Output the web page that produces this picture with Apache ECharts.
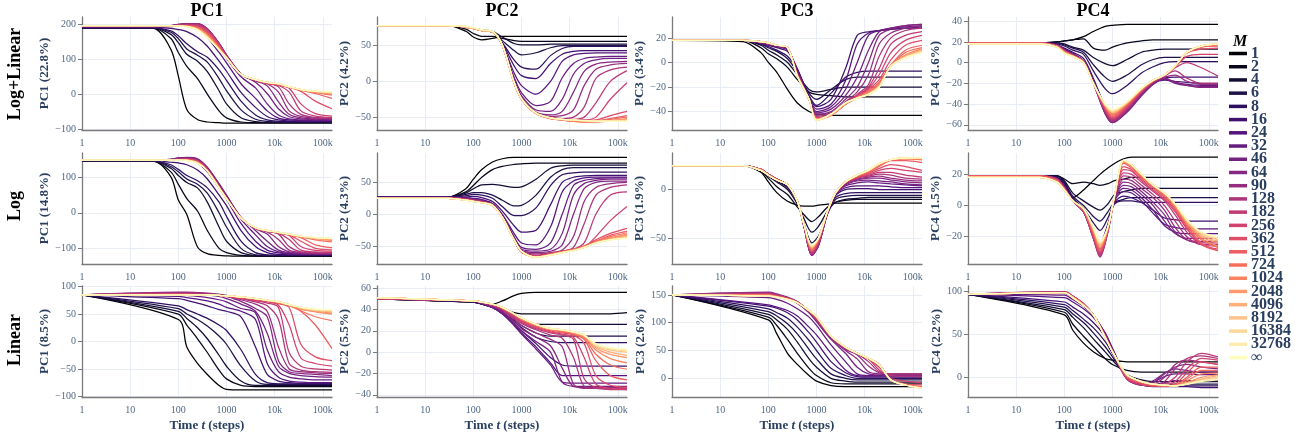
<!DOCTYPE html>
<html><head><meta charset="utf-8">
<script src="https://cdn.jsdelivr.net/npm/echarts@6/dist/echarts.min.js"></script>
<style>html,body{margin:0;padding:0;background:#fff}#c{width:1307px;height:443px}</style>
</head><body><div id="c"></div>
<script>
const M_LABELS = ['1','2','4','6','8','16','24','32','46','64','90','128','182','256','362','512','724','1024','2048','4096','8192','16384','32768','∞'];
const COL_TITLES = ['PC1','PC2','PC3','PC4'];
const ROW_TITLES = ['Log+Linear','Log','Linear'];
const Y_NAMES = [
  ['PC1 (22.8%)','PC2 (4.2%)','PC3 (3.4%)','PC4 (1.6%)'],
  ['PC1 (14.8%)','PC2 (4.3%)','PC3 (1.9%)','PC4 (1.5%)'],
  ['PC1 (8.5%)','PC2 (5.5%)','PC3 (2.6%)','PC4 (2.2%)']];
const X_NAME = 'Time {it|t} (steps)';

// time samples (steps)
const T_MAIN = [1,30,70,100,150,250,400,700,1000,2000,4000,7000,12000,20000,35000,70000,155000];
const T_DIP  = [1,30,70,100,150,250,400,550,800,1100,1700,2500,4000,7000,12000,20000,35000,70000,155000];
const T_LIN  = [1,100,150,250,400,700,1000,2000,4000,7000,12000,20000,35000,70000,155000];

// ---- Log+Linear ----
const LL_PC1 = [
[190,189,129,52,-44,-73,-80,-82,-83,-83,-83,-83,-83,-83,-83,-83,-83],
[190,190,160,120,80,45,0,-48,-68,-80,-82,-82,-82,-82,-82,-82,-82],
[190,190,172,148,115,95,65,10,-28,-68,-79,-81,-81,-81,-81,-81,-81],
[191,191,178,160,130,112,92,45,10,-45,-72,-78,-80,-80,-80,-80,-80],
[191,191,182,168,145,122,106,70,40,-20,-60,-74,-78,-79,-79,-79,-79],
[192,192,189,186,180,163,138,95,66,5,-38,-64,-74,-77,-78,-78,-78],
[193,193,194,196,196,188,163,120,90,30,-12,-48,-69,-74,-76,-76,-76],
[194,194,196,199,201,198,178,138,104,50,18,-28,-60,-71,-74,-75,-75],
[194,194,197,201,203,202,186,146,112,58,34,2,-42,-65,-71,-73,-73],
[195,195,197,201,203,203,188,147,113,59,38,24,-22,-58,-68,-71,-72],
[195,195,197,200,202,202,188,146,112,58,39,30,6,-48,-64,-69,-70],
[195,195,197,199,201,200,187,145,110,58,40,31,21,-28,-58,-67,-69],
[196,196,197,198,199,198,185,143,108,57,40,31,25,6,-48,-63,-67],
[196,196,197,198,198,196,183,141,107,57,40,31,26,17,-28,-56,-63],
[196,196,197,197,197,194,180,139,106,57,41,32,27,20,8,-20,-42],
[196,196,197,197,197,192,176,136,106,57,41,32,28,20,12,2,-12],
[197,197,197,197,196,190,172,134,105,57,41,33,29,21,13,5,-3],
[197,197,197,197,196,189,170,132,105,57,42,33,29,21,12,5,0],
[197,197,197,197,195,188,168,131,105,57,42,34,30,21,13,6,2],
[197,197,197,196,195,187,166,130,105,57,42,34,30,21,13,7,3],
[197,197,197,196,195,186,165,129,105,57,42,34,30,21,13,8,4],
[197,197,197,196,194,186,164,129,105,57,42,34,30,21,13,8,5],
[197,197,197,196,194,185,163,128,105,57,42,34,30,21,13,9,6],
[197,197,197,196,194,185,162,128,105,57,42,34,30,22,14,9,7]];
const LL_PC2 = [
[78,78,70,62,58,60,63,63,63,63,63,63,63,63,63,63,63],
[78,78,73,67,63,63,60,57,56,56,56,56,56,56,56,56,56],
[78,78,76,74,72,70,62,53,51,51,52,52,52,52,52,52,52],
[78,78,76,74,72,69,57,43,37,40,47,50,50,50,50,50,50],
[78,78,76,74,72,69,54,30,20,17,36,46,49,49,49,49,49],
[78,78,76,74,72,69,53,22,8,4,25,38,42,43,43,43,43],
[78,78,76,74,71,69,52,12,-6,-18,0,28,37,39,40,40,40],
[78,78,76,74,71,69,51,6,-16,-34,-28,5,25,32,34,35,35],
[78,78,76,74,71,69,51,3,-20,-40,-42,-25,10,25,30,32,32],
[78,78,76,74,71,69,51,1,-22,-43,-47,-42,-15,14,24,27,28],
[78,78,76,74,71,69,50,0,-23,-44,-49,-48,-40,-6,17,23,25],
[78,78,76,74,71,69,50,-1,-24,-45,-50,-52,-50,-36,4,16,20],
[78,78,76,74,71,69,50,-1,-24,-45,-51,-53,-53,-50,-30,0,15],
[78,78,76,74,71,69,50,-1,-24,-45,-51,-53,-54,-54,-50,-25,-2],
[78,78,76,74,71,69,50,-2,-25,-45,-51,-53,-55,-55,-54,-48,-42],
[78,78,76,74,71,69,50,-2,-25,-45,-52,-54,-56,-56,-55,-52,-48],
[78,78,76,74,71,69,50,-2,-25,-45,-52,-54,-56,-57,-56,-53,-50],
[78,78,76,74,71,69,50,-2,-25,-45,-52,-54,-56,-57,-57,-55,-52],
[78,78,76,74,71,69,50,-2,-25,-45,-51,-53,-55,-56,-56,-55,-53],
[78,78,76,74,71,69,50,-2,-25,-45,-51,-53,-54,-55,-55,-55,-54],
[78,78,76,74,71,69,50,-2,-25,-45,-51,-53,-54,-55,-55,-55,-55],
[78,78,77,75,72,70,51,-1,-24,-45,-51,-53,-54,-55,-55,-55,-55],
[78,78,77,75,72,70,51,-1,-24,-44,-51,-53,-54,-55,-56,-56,-56],
[78,78,77,75,72,70,51,-1,-24,-44,-51,-53,-54,-55,-56,-56,-56]];
const LL_PC3 = [
[18,17,8,0,-8,-22,-33,-40,-42,-43,-43,-43,-43,-43,-43,-43,-43],
[18,18,12,7,3,-4,-14,-24,-26,-27,-28,-28,-28,-28,-28,-28,-28],
[18,18,14,10,6,0,-10,-22,-24,-22,-20,-20,-20,-20,-20,-20,-20],
[18,18,15,12,9,3,-8,-25,-30,-22,-14,-12,-12,-12,-12,-12,-12],
[18,18,15,13,10,5,-6,-27,-35,-25,-12,-8,-7,-7,-7,-7,-7],
[18,18,16,14,12,9,-5,-28,-36,-30,-5,22,25,26,27,28,28],
[18,18,16,14,13,10,-6,-29,-38,-34,-15,15,24,26,27,28,29],
[18,18,16,15,13,11,-7,-29,-40,-36,-22,0,22,26,28,29,30],
[18,18,16,15,13,11,-8,-30,-41,-38,-27,-12,10,25,28,30,31],
[18,18,16,15,13,11,-8,-30,-42,-40,-30,-20,0,22,27,30,31],
[18,18,17,15,14,11,-9,-30,-43,-41,-32,-24,-10,15,24,28,30],
[18,18,17,15,14,12,-9,-30,-44,-42,-33,-26,-18,5,20,26,28],
[18,18,17,16,14,12,-10,-30,-45,-43,-33,-27,-20,-5,15,22,25],
[18,18,17,16,14,12,-10,-30,-45,-43,-34,-27,-21,-10,8,18,22],
[18,18,17,16,14,12,-10,-30,-46,-43,-34,-28,-22,-14,2,14,18],
[18,18,17,16,14,12,-10,-30,-46,-43,-34,-28,-23,-16,-2,10,14],
[18,18,17,16,14,12,-11,-30,-46,-43,-34,-29,-24,-17,-3,8,12],
[18,18,17,16,14,12,-11,-30,-46,-43,-34,-29,-25,-18,-3,6,11],
[18,18,17,16,14,12,-11,-30,-46,-43,-34,-29,-25,-19,-3,5,10],
[18,18,17,16,14,12,-11,-30,-47,-43,-33,-29,-26,-19,-3,5,10],
[18,18,17,16,14,12,-11,-30,-47,-42,-33,-29,-26,-20,-3,4,9],
[18,18,17,16,14,12,-11,-30,-47,-42,-33,-29,-26,-20,-3,4,9],
[18,18,17,16,14,12,-11,-30,-47,-42,-33,-29,-26,-20,-3,4,8],
[18,18,17,16,14,12,-11,-30,-47,-42,-33,-29,-26,-20,-3,4,8]];
const LL_PC4 = [
[19,19,20,21,22,25,30,35,36,37,37,37,37,37,37,37,37],
[19,19,20,21,22,23,14,12,15,19,21,22,22,22,22,22,22],
[19,19,19,18,15,12,5,-1,-3,3,10,12,13,13,13,13,13],
[19,19,19,17,14,10,-2,-14,-18,-12,-2,3,5,5,5,5,5],
[19,19,18,16,12,8,-8,-25,-30,-22,-10,-4,0,1,1,1,1],
[19,19,17,14,10,4,-15,-42,-50,-42,-28,-20,-15,-14,-14,-14,-14],
[19,19,17,13,9,2,-18,-46,-55,-45,-30,-20,-17,-18,-19,-20,-20],
[19,19,17,13,8,1,-19,-48,-57,-47,-31,-20,-16,-19,-21,-22,-22],
[19,19,17,12,8,1,-19,-49,-58,-48,-32,-21,-16,-20,-22,-23,-23],
[19,19,17,12,8,1,-20,-49,-58,-47,-31,-20,-15,-19,-22,-24,-24],
[19,19,17,12,7,1,-20,-48,-57,-46,-30,-19,-14,-12,-18,-21,-21],
[19,19,16,12,7,1,-20,-47,-56,-45,-29,-19,-13,-8,-15,-20,-20],
[19,19,16,11,7,1,-20,-46,-55,-44,-28,-18,-13,-5,0,-5,-13],
[19,19,16,11,7,1,-20,-45,-54,-43,-28,-18,-12,-4,6,8,8],
[19,19,16,11,7,1,-20,-44,-53,-42,-27,-18,-12,-4,9,13,14],
[19,19,16,11,7,1,-20,-43,-52,-41,-27,-18,-12,-4,10,15,16],
[18,18,16,10,6,0,-20,-42,-51,-40,-26,-17,-12,-3,10,15,17],
[18,18,16,10,6,0,-20,-42,-50,-40,-26,-17,-12,-3,10,16,17],
[18,18,15,10,6,0,-20,-41,-49,-39,-26,-17,-12,-3,10,16,18],
[18,18,15,10,6,0,-20,-41,-48,-39,-25,-17,-12,-3,10,16,18],
[18,18,15,9,6,0,-20,-41,-47,-38,-25,-17,-12,-3,10,16,18],
[18,18,15,9,6,0,-20,-40,-47,-38,-25,-17,-12,-3,10,16,18],
[18,18,15,9,6,0,-20,-40,-46,-38,-25,-17,-12,-3,10,16,18],
[18,18,15,9,6,0,-20,-40,-45,-38,-25,-17,-12,-3,10,16,18]];

// ---- Log ----
const LOG_PC1 = [
[145,145,101,36,-5,-96,-115,-120,-121,-122,-122,-122,-122,-122,-122,-122,-122],
[145,145,115,80,40,5,-50,-100,-112,-120,-122,-122,-122,-122,-122,-122,-122],
[145,145,125,105,85,70,30,-40,-80,-112,-120,-121,-121,-121,-121,-121,-121],
[146,146,130,115,95,80,55,0,-40,-100,-118,-120,-120,-120,-120,-120,-120],
[146,146,135,122,105,90,70,30,-10,-80,-112,-118,-119,-119,-119,-119,-119],
[147,147,142,140,135,120,95,50,20,-50,-95,-112,-117,-118,-118,-118,-118],
[148,148,148,150,150,140,115,70,38,-30,-80,-105,-113,-116,-117,-117,-117],
[148,148,150,153,154,150,125,80,48,-18,-62,-95,-110,-114,-116,-116,-116],
[148,148,150,154,156,152,128,82,50,-12,-50,-80,-105,-112,-115,-116,-116],
[148,148,150,154,155,150,126,78,45,-14,-45,-60,-95,-110,-114,-115,-115],
[148,148,149,152,153,148,124,76,43,-15,-44,-54,-75,-105,-112,-114,-114],
[148,148,149,151,152,147,123,75,42,-15,-43,-52,-60,-95,-110,-112,-113],
[148,148,149,150,151,146,122,74,42,-15,-43,-52,-58,-75,-105,-110,-111],
[148,148,148,149,150,145,121,73,41,-15,-43,-52,-57,-64,-95,-106,-108],
[148,148,148,149,149,144,120,72,41,-15,-43,-51,-56,-62,-80,-100,-104],
[148,148,148,149,149,143,120,72,41,-15,-43,-51,-56,-62,-70,-90,-98],
[148,148,148,148,148,142,119,71,40,-15,-43,-51,-56,-62,-68,-76,-82],
[148,148,148,148,148,141,119,71,40,-15,-42,-50,-56,-61,-67,-73,-78],
[148,148,148,148,148,141,118,71,40,-15,-42,-50,-55,-61,-67,-72,-76],
[148,148,148,148,148,141,118,71,40,-15,-42,-50,-55,-60,-67,-71,-74],
[148,148,148,148,148,140,118,70,40,-15,-42,-50,-55,-60,-66,-71,-73],
[148,148,148,148,147,140,118,70,40,-15,-42,-50,-55,-60,-66,-70,-72],
[148,148,148,148,147,140,118,70,40,-15,-42,-50,-55,-60,-66,-70,-72],
[148,148,148,148,147,140,118,70,40,-15,-42,-50,-55,-60,-66,-70,-72]];
const LOG_PC2 = [
[27,27,40,55,70,82,87,89,89,89,89,89,89,89,89,89,89],
[27,27,35,45,58,70,75,78,79,80,80,80,80,80,80,80,80],
[27,27,33,40,46,47,45,42,43,55,72,76,77,77,77,77,77],
[27,27,31,34,34,30,22,13,14,30,58,70,73,73,73,73,73],
[27,27,29,31,30,25,12,-2,-2,10,45,62,65,66,66,66,66],
[27,27,27,28,26,20,5,-18,-28,-25,15,50,58,60,61,61,61],
[27,27,26,25,23,17,0,-30,-45,-48,-20,35,52,57,58,58,58],
[26,26,25,24,22,16,-2,-35,-52,-55,-45,0,45,53,56,57,57],
[26,26,25,23,21,16,-3,-37,-55,-58,-55,-30,30,48,53,55,55],
[26,26,24,23,21,15,-3,-38,-57,-60,-58,-48,0,40,50,52,52],
[26,26,24,22,20,15,-4,-39,-58,-62,-60,-56,-35,20,42,48,50],
[26,26,24,22,20,15,-4,-39,-59,-64,-61,-58,-52,-15,30,42,46],
[26,26,23,21,19,15,-4,-40,-59,-65,-62,-58,-55,-45,0,30,35],
[25,25,23,21,19,14,-4,-40,-59,-66,-62,-58,-55,-52,-35,-10,12],
[25,25,23,21,19,14,-5,-40,-59,-66,-62,-58,-55,-50,-40,-30,-22],
[25,25,23,21,19,14,-5,-40,-59,-67,-63,-59,-55,-50,-42,-33,-27],
[25,25,22,20,18,14,-5,-40,-58,-67,-63,-59,-56,-51,-43,-35,-29],
[25,25,22,20,18,14,-5,-40,-58,-67,-63,-59,-56,-51,-44,-37,-31],
[25,25,22,20,18,14,-5,-40,-58,-67,-64,-60,-56,-51,-44,-38,-33],
[25,25,22,20,18,14,-5,-40,-58,-67,-64,-60,-57,-52,-45,-39,-35],
[25,25,22,20,18,14,-5,-40,-58,-67,-64,-60,-57,-52,-45,-40,-36],
[25,25,22,20,18,14,-5,-40,-58,-68,-64,-60,-57,-52,-45,-40,-37],
[25,25,22,20,18,14,-5,-40,-58,-68,-64,-60,-57,-52,-45,-40,-38],
[25,25,22,20,18,14,-5,-40,-58,-67,-64,-60,-57,-52,-45,-40,-38]];
const LOG_PC3 = [
[25,25,18,8,-3,-12,-16,-17,-17,-16,-15,-14,-14,-14,-14,-14,-14,-14,-14],
[25,25,19,12,3,-5,-18,-26,-33,-28,-18,-13,-11,-10,-10,-10,-10,-10,-10],
[25,25,20,14,8,0,-15,-30,-44,-38,-22,-13,-10,-9,-8,-8,-8,-8,-8],
[25,25,20,15,9,2,-13,-35,-55,-48,-25,-10,-7,-6,-6,-6,-6,-6,-6],
[25,25,21,15,10,3,-12,-37,-60,-52,-24,-8,-4,-3,-3,-3,-3,-3,-3],
[25,25,21,16,11,4,-12,-38,-65,-56,-24,-6,0,1,1,0,0,0,0],
[25,25,21,16,11,5,-12,-38,-67,-57,-24,-5,2,4,4,4,3,2,2],
[25,25,21,16,11,5,-12,-38,-68,-58,-24,-4,4,7,8,7,6,5,4],
[25,25,21,16,11,5,-12,-38,-68,-58,-24,-4,5,9,10,9,8,6,5],
[25,25,21,16,11,5,-12,-38,-68,-57,-24,-4,6,10,12,12,10,8,7],
[25,25,21,16,11,5,-12,-38,-68,-57,-24,-4,6,11,13,14,12,10,9],
[25,25,21,16,11,5,-12,-38,-67,-56,-23,-4,7,12,14,16,15,12,11],
[25,25,21,16,11,5,-12,-37,-66,-55,-23,-4,7,12,15,18,18,15,13],
[25,25,21,16,11,5,-12,-37,-65,-54,-23,-3,8,13,16,20,22,20,18],
[25,25,21,16,11,5,-12,-37,-64,-53,-23,-3,8,13,17,22,26,24,20],
[25,25,21,15,10,5,-12,-37,-63,-52,-22,-3,8,14,18,24,30,30,28],
[25,25,20,15,10,5,-12,-37,-62,-52,-22,-3,8,14,19,25,31,32,31],
[25,25,20,15,10,5,-12,-36,-61,-51,-22,-3,8,15,20,26,31,32,32],
[25,25,20,15,10,5,-12,-36,-60,-51,-22,-3,8,15,20,26,31,33,33],
[25,25,20,15,10,5,-12,-36,-60,-50,-22,-3,8,15,20,27,31,33,33],
[25,25,20,15,10,5,-12,-36,-59,-50,-22,-3,8,15,20,27,31,33,33],
[25,25,20,15,10,5,-12,-36,-59,-50,-22,-3,8,15,20,27,31,33,33],
[25,25,20,15,10,5,-12,-36,-58,-50,-22,-3,8,15,20,27,31,33,33],
[25,25,20,15,10,5,-12,-36,-58,-50,-22,-3,8,15,20,27,31,33,33]];
const LOG_PC4 = [
[19,19,19,15,5,10,16,20,24,27,30,31,31,31,31,31,31,31,31],
[19,19,19,17,14,15,14,13,14,16,17,18,18,18,18,18,18,18,18],
[19,19,19,16,8,3,-1,-3,1,7,9,10,11,11,11,11,11,11,11],
[19,19,18,15,6,0,-7,-10,-4,2,4,5,5,5,5,5,5,5,5],
[19,19,18,14,5,-2,-11,-16,-8,1,3,3,2,2,2,2,2,2,2],
[19,19,18,13,4,-3,-16,-24,-12,2,6,5,2,-3,-8,-9,-10,-10,-10],
[19,19,17,12,3,-4,-18,-28,-14,3,9,8,3,-5,-12,-14,-15,-15,-15],
[19,19,17,12,3,-4,-19,-30,-15,4,11,10,5,-3,-13,-17,-18,-18,-18],
[19,19,17,12,3,-4,-20,-31,-16,4,13,12,7,0,-10,-18,-21,-21,-21],
[19,19,17,12,3,-4,-20,-32,-16,4,15,14,9,2,-6,-17,-22,-23,-23],
[19,19,17,11,3,-4,-21,-33,-17,4,17,16,11,5,-3,-14,-22,-24,-24],
[19,19,17,11,3,-4,-21,-33,-17,5,19,18,13,7,0,-10,-20,-25,-25],
[19,19,17,11,3,-4,-21,-32,-17,5,21,20,15,9,3,-6,-17,-25,-26],
[19,19,16,11,3,-3,-20,-31,-16,5,23,22,16,10,4,-4,-15,-25,-28],
[19,19,16,11,3,-3,-19,-30,-16,5,25,23,17,11,5,-3,-14,-25,-29],
[19,19,16,11,3,-3,-18,-29,-15,6,27,24,18,12,6,-2,-13,-24,-29],
[18,18,16,10,3,-3,-17,-28,-15,6,28,25,19,12,7,-1,-12,-22,-27],
[18,18,15,10,3,-2,-16,-27,-15,6,28,25,19,13,7,0,-11,-21,-26],
[18,18,15,10,3,-2,-16,-26,-14,6,28,26,20,13,8,0,-11,-20,-24],
[18,18,15,10,3,-2,-15,-25,-14,6,29,26,20,13,8,1,-10,-19,-23],
[18,18,15,10,3,-2,-15,-25,-14,6,29,26,20,13,8,1,-10,-18,-22],
[18,18,15,10,3,-2,-14,-24,-14,6,29,26,20,13,8,1,-9,-18,-21],
[18,18,15,10,3,-2,-14,-24,-14,6,29,26,20,13,8,1,-9,-17,-21],
[18,18,15,10,3,-2,-14,-23,-14,6,29,26,20,13,8,1,-9,-17,-20]];

// ---- Linear ----
const LIN_PC1 = [
[85,40,-10,-40,-60,-80,-87,-88,-88,-88,-88,-88,-88,-88,-88],
[85,50,30,5,-20,-52,-68,-80,-82,-82,-82,-82,-82,-82,-82],
[85,55,42,25,5,-25,-45,-72,-80,-80,-80,-80,-80,-80,-80],
[85,60,50,40,28,10,-5,-45,-72,-78,-78,-78,-78,-78,-78],
[85,65,58,50,42,30,20,-15,-60,-75,-77,-77,-77,-77,-77],
[85,78,75,70,65,58,55,45,-10,-60,-72,-75,-76,-76,-76],
[85,82,80,77,74,68,62,55,40,-40,-65,-72,-74,-75,-75],
[85,85,84,82,80,76,72,60,52,-15,-55,-65,-68,-70,-70],
[85,88,88,87,85,82,78,68,55,15,-45,-58,-62,-64,-65],
[85,89,89,88,87,85,82,73,60,45,-35,-55,-58,-60,-62],
[85,90,90,89,88,86,84,76,68,55,-10,-50,-55,-57,-58],
[85,88,88,87,86,85,83,78,72,65,40,-40,-52,-55,-56],
[85,87,87,86,85,84,82,78,74,70,62,-20,-45,-50,-52],
[85,86,86,85,85,84,82,79,75,72,66,30,-30,-40,-45],
[85,86,86,85,85,84,83,80,77,74,69,62,-5,-28,-35],
[85,85,85,85,85,84,83,80,77,74,70,65,55,30,-13],
[85,85,85,85,85,84,83,81,78,75,71,66,56,45,38],
[85,85,85,85,85,84,83,81,78,75,71,66,59,54,50],
[85,85,85,85,85,84,83,81,78,75,72,67,60,55,52],
[85,85,85,85,85,84,83,81,78,75,72,67,61,56,54],
[85,85,85,85,85,84,83,81,78,75,72,67,61,57,55],
[85,85,85,85,85,84,83,81,78,75,72,67,62,58,56],
[85,85,85,85,85,84,83,81,78,75,72,67,62,58,57],
[85,85,85,85,85,84,83,81,78,75,72,67,62,59,58]];
const LIN_PC2 = [
[50,47,46,45,48,53,55,56,56,56,56,56,56,56,56],
[50,47,46,44,41,37,36,36,36,36,36,36,36,36,37],
[50,47,45,43,39,33,29,26,26,26,26,26,26,26,26],
[50,47,45,42,37,30,25,18,15,15,15,15,15,15,15],
[50,47,45,42,37,29,23,14,10,9,9,9,9,9,9],
[50,47,45,42,36,27,20,8,-5,-12,-13,-13,-13,-13,-13],
[50,48,46,42,36,26,18,5,-10,-22,-22,-22,-22,-22,-22],
[50,48,46,42,36,25,17,3,-12,-28,-29,-29,-29,-29,-29],
[50,48,46,42,37,27,20,10,0,-28,-32,-32,-32,-32,-32],
[50,48,46,43,38,29,22,14,6,-15,-32,-33,-33,-33,-33],
[50,48,46,43,39,31,25,18,12,5,-30,-34,-34,-34,-34],
[50,48,47,44,40,32,27,21,16,13,-5,-32,-34,-35,-35],
[50,48,47,44,40,33,28,22,18,16,12,-25,-33,-34,-34],
[50,48,47,44,41,34,29,23,19,17,14,-5,-30,-34,-35],
[51,48,47,45,41,35,30,24,20,18,16,8,-22,-31,-33],
[51,48,47,45,41,35,31,25,21,19,17,12,-8,-22,-26],
[51,48,47,45,42,36,31,25,21,20,17,13,-2,-12,-16],
[51,48,47,45,42,36,31,25,21,20,18,14,2,-6,-10],
[51,48,47,45,42,36,32,26,22,21,18,15,4,-2,-5],
[51,48,47,45,42,36,32,26,22,21,19,15,5,0,-3],
[51,48,47,45,42,36,32,26,22,21,19,16,6,2,0],
[51,48,47,45,42,36,32,26,22,21,19,16,7,3,1],
[51,48,47,45,42,36,32,26,22,21,19,16,7,4,2],
[51,48,47,45,42,36,32,26,22,21,19,16,8,4,3]];
const LIN_PC3 = [
[150,105,80,45,25,5,-5,-13,-15,-15,-15,-15,-15,-15,-15],
[150,110,95,70,45,18,5,-8,-10,-10,-10,-10,-10,-10,-10],
[150,115,105,88,65,35,20,0,-5,-7,-7,-7,-7,-7,-7],
[150,120,112,98,80,52,35,8,0,-3,-3,-3,-3,-3,-3],
[150,125,118,108,92,68,50,18,5,0,0,0,0,0,0],
[150,130,126,118,105,82,65,30,10,3,2,2,2,2,2],
[150,132,128,122,112,92,78,45,15,5,4,4,4,4,4],
[150,145,142,135,125,110,95,60,30,8,5,5,5,5,5],
[150,152,150,145,135,118,102,70,45,20,8,6,6,6,6],
[150,155,152,146,138,120,105,72,50,35,12,8,7,7,7],
[150,154,151,145,137,120,105,73,52,42,22,10,8,8,8],
[150,153,150,145,137,120,106,74,53,44,30,12,8,8,8],
[150,152,149,144,137,121,107,74,54,45,35,15,5,4,4],
[150,151,148,144,137,121,108,75,55,45,35,20,0,-5,-8],
[150,150,148,143,137,121,108,75,55,45,35,25,-2,-10,-12],
[150,150,147,143,136,122,109,75,55,45,36,25,-3,-11,-15],
[150,149,147,143,136,122,110,76,56,45,36,24,-3,-12,-16],
[150,149,147,142,136,122,110,76,56,45,36,24,-3,-12,-17],
[150,149,147,142,136,122,111,76,56,45,36,24,-3,-12,-17],
[150,148,146,142,136,122,111,76,56,45,36,24,-3,-12,-17],
[150,148,146,142,136,122,111,76,56,45,36,24,-3,-12,-18],
[150,148,146,142,136,122,111,76,56,45,36,24,-3,-12,-18],
[150,148,146,142,136,122,111,76,56,45,36,24,-3,-12,-18],
[150,148,146,142,136,122,111,76,56,45,36,24,-3,-12,-18]];
const LIN_PC4 = [
[97,73,55,40,30,22,20,18,18,18,18,18,18,18,18],
[97,76,62,48,36,22,15,8,6,6,6,6,6,6,6],
[97,79,70,58,45,30,20,3,-3,-5,-5,-5,-5,-5,-5],
[97,82,74,64,52,36,24,1,-6,-8,-8,-8,-8,-8,-8],
[97,85,78,68,58,42,28,0,-8,-10,-10,-10,-10,-10,-10],
[97,88,82,74,64,48,32,0,-9,-11,-11,-11,-11,-12,-12],
[97,93,88,80,70,52,34,0,-9,-9,-6,-4,-4,-4,-4],
[97,96,91,83,72,52,33,-1,-8,-6,1,4,4,3,3],
[97,98,93,85,73,51,32,-2,-8,-4,5,10,8,6,6],
[97,99,94,86,73,50,31,-2,-9,-6,4,12,15,12,10],
[97,100,95,86,73,49,30,-2,-9,-8,0,15,20,18,15],
[97,100,95,86,73,49,30,-2,-9,-10,-5,10,22,25,22],
[97,100,95,86,73,48,30,-2,-9,-10,-8,0,18,28,24],
[97,99,94,85,73,48,30,-1,-8,-10,-9,-5,10,22,20],
[97,99,94,85,73,48,30,0,-7,-10,-10,-8,5,18,15],
[97,99,94,85,73,48,30,1,-6,-9,-10,-9,0,12,12],
[97,99,94,85,73,48,30,2,-6,-9,-10,-9,-2,8,8],
[97,99,94,85,73,47,30,2,-5,-8,-10,-10,-4,4,5],
[97,99,93,84,73,47,30,3,-5,-8,-9,-10,-6,0,3],
[97,99,93,84,73,47,30,3,-5,-8,-9,-10,-7,-2,2],
[97,99,93,84,73,47,30,3,-5,-8,-9,-10,-7,-3,0],
[97,99,93,84,73,47,30,3,-5,-8,-9,-10,-8,-4,-1],
[97,99,93,84,73,47,30,3,-5,-8,-9,-10,-8,-4,-2],
[97,99,93,84,73,47,30,3,-5,-8,-9,-10,-8,-5,-3]];

const PANELS = [[LL_PC1,LL_PC2,LL_PC3,LL_PC4],[LOG_PC1,LOG_PC2,LOG_PC3,LOG_PC4],[LIN_PC1,LIN_PC2,LIN_PC3,LIN_PC4]];
const TIMES = [[T_MAIN,T_MAIN,T_MAIN,T_MAIN],[T_MAIN,T_MAIN,T_DIP,T_DIP],[T_LIN,T_LIN,T_LIN,T_LIN]];
// y axis [min, max, tick step]
const Y_AXES = [
  [[-103,222,100],[-68,90,50],[-55,37,20],[-65,44,20]],
  [[-144,168,100],[-78,96,50],[-77,38,50],[-37.5,33.7,20]],
  [[-101,101,50],[-42,62,20],[-33.6,166,50],[-23,106.7,50]]];

// ---------- style / layout ----------
const SERIF = "'Liberation Serif','DejaVu Serif',serif";
const GL = [82,377,672,968], GW = 250;
const GT = [17,153,286], GH = [113,111,111];
const MAGMA = ['#000004','#0c0926','#1d1147','#331067','#51127c','#681c81','#7f2482','#982d80','#b73779','#d0416f','#e65164','#f56b5c','#fc8961','#fea772','#fec68a','#fde4a5','#fcfdbf'];
function hex(c){return [parseInt(c.slice(1,3),16),parseInt(c.slice(3,5),16),parseInt(c.slice(5,7),16)];}
function magma(t){const n=MAGMA.length-1;const x=t*n;const i=Math.min(Math.floor(x),n-1);const f=x-i;
  const a=hex(MAGMA[i]),b=hex(MAGMA[i+1]);return 'rgb('+a.map((v,k)=>Math.round(v+(b[k]-v)*f)).join(',')+')';}
const COLORS = M_LABELS.map((_,i)=>magma(i/(M_LABELS.length-1)));
const fmtY = v => (v<0?'\u2212'+(-v):String(v));
const fmtX = v => { const r=Math.round(v); return r>=10000 ? Math.round(r/1000)+'k' : String(r); };

const grids=[], xAxes=[], yAxes=[], series=[];
for(let r=0;r<3;r++) for(let c=0;c<4;c++){
  const g=r*4+c;
  grids.push({left:GL[c], top:GT[r], width:GW, height:GH[r], containLabel:false});
  xAxes.push({gridIndex:g, type:'log', logBase:10, min:1, max:155000,
    axisLine:{show:true,onZero:false,lineStyle:{color:'#7a7a7a',width:1.3}},
    axisTick:{show:false},
    axisLabel:{showMaxLabel:false, fontFamily:SERIF, fontSize:10, color:'#506784', margin:8, formatter:fmtX},
    splitLine:{show:true, showMaxLine:false, lineStyle:{color:'#e8edf5',width:1}},
    name: r===2 ? X_NAME : '', nameLocation:'middle', nameGap:22,
    nameTextStyle:{fontFamily:SERIF, fontWeight:'bold', fontSize:13, color:'#2a3f5f',
      rich:{it:{fontFamily:SERIF, fontWeight:'bold', fontStyle:'italic', fontSize:13, color:'#2a3f5f'}}}
  });
  const ya=Y_AXES[r][c];
  yAxes.push({gridIndex:g, type:'value', min:ya[0], max:ya[1], minInterval:ya[2], maxInterval:ya[2],
    name:Y_NAMES[r][c], nameLocation:'middle', nameRotate:90, nameGap:(c===0?28:22),
    nameTextStyle:{fontFamily:SERIF, fontWeight:'bold', fontSize:13, color:'#2a3f5f'},
    axisLine:{show:true,onZero:false,lineStyle:{color:'#7a7a7a',width:1.3}},
    axisTick:{show:true,length:4,lineStyle:{color:'#7a7a7a'}},
    axisLabel:{showMinLabel:false, showMaxLabel:false, fontFamily:SERIF, fontSize:10, color:'#506784', margin:6, formatter:fmtY},
    splitLine:{show:true, showMinLine:false, showMaxLine:false, lineStyle:{color:'#e8edf5',width:1}}
  });
  const D=PANELS[r][c], T=TIMES[r][c];
  D.forEach((row,i)=>{
    series.push({type:'line', name:M_LABELS[i], xAxisIndex:g, yAxisIndex:g,
      data: T.map((t,k)=>[t,row[k]]), symbol:'none', showSymbol:false, smooth:0.3,
      lineStyle:{width:1.25, color:COLORS[i]}, itemStyle:{color:COLORS[i]},
      silent:true, emphasis:{disabled:true}, animation:false});
  });
}

const graphics = [];
COL_TITLES.forEach((t,c)=>graphics.push({type:'text', x:GL[c]+GW/2, y:11.5,
  style:{text:t, fill:'#000', font:"bold 18px "+SERIF, align:'center', verticalAlign:'middle'}}));
const ROW_Y=[74,206,340];
ROW_TITLES.forEach((t,r)=>graphics.push({type:'text', x:15, y:ROW_Y[r], rotation:Math.PI/2,
  style:{text:t, fill:'#000', font:"bold 18px "+SERIF, align:'center', verticalAlign:'middle'}}));
graphics.push({type:'text', x:1240, y:42, style:{text:'M', fill:'#000', font:"italic bold 16px "+SERIF, align:'center', verticalAlign:'middle'}});

const chart = echarts.init(document.getElementById('c'), null, {renderer:'canvas'});
chart.setOption({
  animation:false, backgroundColor:'#fff',
  grid:grids, xAxis:xAxes, yAxis:yAxes, series:series, graphic:graphics,
  legend:{orient:'vertical', left:1229, top:45.5, padding:0, itemGap:-2.78, itemWidth:18, itemHeight:3.5,
    icon:'rect', selectedMode:false, data:M_LABELS,
    textStyle:{fontFamily:SERIF, fontWeight:'bold', fontSize:16, color:'#2a3f5f', padding:[0,0,0,-1]}}
});
</script></body></html>
